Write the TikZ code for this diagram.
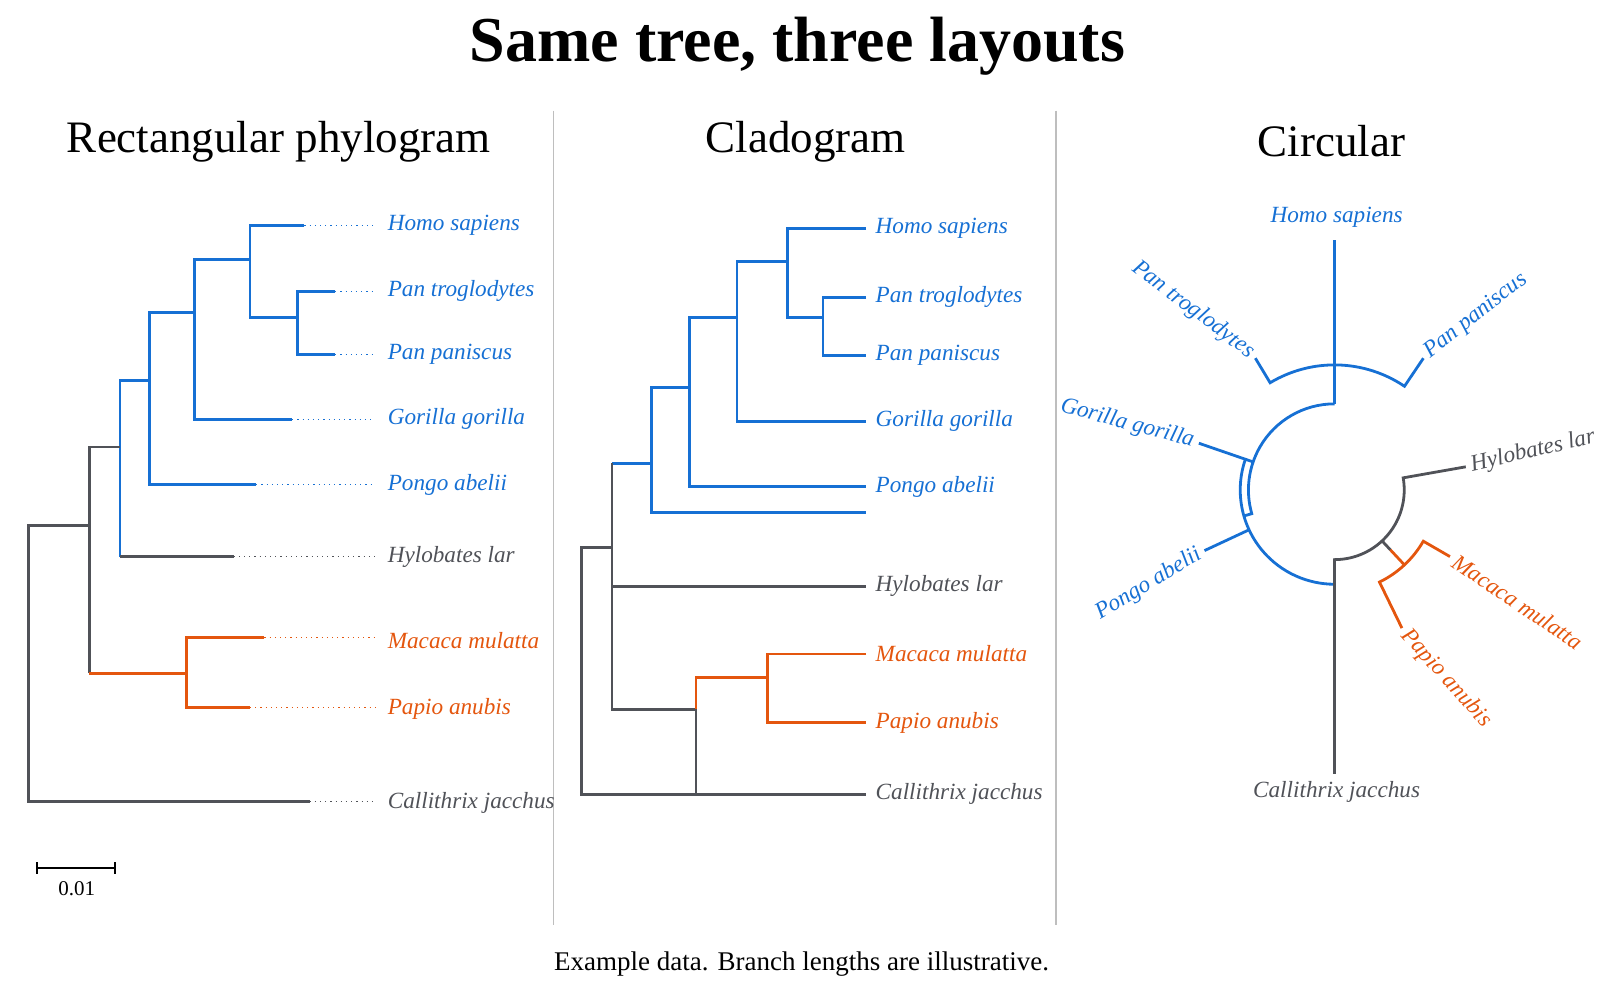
\documentclass[tikz,border=0pt]{standalone}
\usepackage{fontspec}
\setmainfont{Liberation Serif}
\begin{document}
\definecolor{cb}{RGB}{22,112,212}
\definecolor{co}{RGB}{228,86,14}
\definecolor{cg}{RGB}{80,82,88}
\definecolor{cd}{RGB}{190,190,190}
\begin{tikzpicture}[x=.5125pt,y=-.5125pt,
  br/.style={line width=1.4pt},
  dt/.style={dotted,line width=.6pt},
  lab/.style={font=\fontsize{11.6}{14}\selectfont\itshape,inner sep=1pt},
  hd/.style={font=\fontsize{22.5}{26}\selectfont},
  line join=miter]
\useasboundingbox (0,0) rectangle (1561,976);
\node[font=\fontsize{32}{36}\selectfont\bfseries] (title) at (778,45) {Same tree, three layouts};
\node[hd] (h1) at (272,138) {Rectangular phylogram};
\node[hd] (h2) at (786,138) {Cladogram};
\node[hd] (h3) at (1299,138) {Circular};
\node[font=\fontsize{13.5}{15}\selectfont] (foot) at (782,941) {Example data. Branch lengths are illustrative.};
\draw[cd,line width=.8pt] (540,108) -- (540,902);
\draw[cd,line width=.8pt] (1030,108) -- (1030,902);

% ---- rectangular phylogram
\draw[br,cb] (297,220) -- (244,220) -- (244,310) -- (290,310);
\draw[br,cb] (327,284) -- (290,284) -- (290,346) -- (327,346);
\draw[br,cb] (244,253) -- (190,253) -- (190,409) -- (285,409);
\draw[br,cb] (190,305) -- (146,305) -- (146,473) -- (250,473);
\draw[br,cb] (146,371) -- (117,371) -- (117,543);
\draw[br,cg] (117,543) -- (228,543);
\draw[br,cg] (117,436) -- (87,436) -- (87,657);
\draw[br,co] (87,657) -- (182,657);
\draw[br,co] (258,622) -- (182,622) -- (182,690) -- (244,690);
\draw[br,cg] (87,513) -- (28,513) -- (28,782) -- (302,782);
\draw[dt,cb] (297,220)--(366,220) (327,284)--(366,284) (327,346)--(366,346) (285,409)--(366,409) (250,473)--(366,473);
\draw[dt,cg] (228,543)--(366,543) (302,782)--(366,782);
\draw[dt,co] (258,622)--(366,622) (244,690)--(366,690);
\node[lab,cb,anchor=west] (l1) at (376,220) {Homo sapiens};
\node[lab,cb,anchor=west] (l2) at (376,284) {Pan troglodytes};
\node[lab,cb,anchor=west] (l3) at (376,346) {Pan paniscus};
\node[lab,cb,anchor=west] (l4) at (376,409) {Gorilla gorilla};
\node[lab,cb,anchor=west] (l5) at (376,473) {Pongo abelii};
\node[lab,cg,anchor=west] (l6) at (376,543) {Hylobates lar};
\node[lab,co,anchor=west] (l7) at (376,625) {Macaca mulatta};
\node[lab,co,anchor=west] (l8) at (376,692) {Papio anubis};
\node[lab,cg,anchor=west] (l9) at (376,783) {Callithrix jacchus};
\draw[line width=1pt] (36,841) -- (36,853) (36,847) -- (112,847) (112,841) -- (112,853);
\node[font=\fontsize{10.5}{12}\selectfont] (sc) at (75,867) {0.01};

% ---- cladogram
\draw[br,cb] (845,223) -- (768,223) -- (768,310) -- (803,310);
\draw[br,cb] (845,290) -- (803,290) -- (803,347) -- (845,347);
\draw[br,cb] (768,255) -- (719,255) -- (719,411) -- (845,411);
\draw[br,cb] (719,310) -- (673,310) -- (673,475) -- (845,475);
\draw[br,cb] (673,378) -- (636,378) -- (636,500) -- (845,500);
\draw[br,cb] (636,452) -- (597,452);
\draw[br,cg] (597,452) -- (597,692) -- (679,692) -- (679,775);
\draw[br,cg] (597,572) -- (845,572);
\draw[br,co] (679,692) -- (679,661) -- (749,661);
\draw[br,co] (845,638) -- (749,638) -- (749,705) -- (845,705);
\draw[br,cg] (597,534) -- (567,534) -- (567,775) -- (845,775);
\node[lab,cb,anchor=west] (c1) at (852,223) {Homo sapiens};
\node[lab,cb,anchor=west] (c2) at (852,290) {Pan troglodytes};
\node[lab,cb,anchor=west] (c3) at (852,347) {Pan paniscus};
\node[lab,cb,anchor=west] (c4) at (852,411) {Gorilla gorilla};
\node[lab,cb,anchor=west] (c5) at (852,475) {Pongo abelii};
\node[lab,cg,anchor=west] (c6) at (852,572) {Hylobates lar};
\node[lab,co,anchor=west] (c7) at (852,638) {Macaca mulatta};
\node[lab,co,anchor=west] (c8) at (852,705) {Papio anubis};
\node[lab,cg,anchor=west] (c9) at (852,775) {Callithrix jacchus};

% ---- circular
\begin{scope}[shift={(1302,478)},y=.5125pt]
\coordinate (C) at (0,0);
\draw[br,cb] (90:84) -- (90:244);
\draw[br,cb] (121:150) -- (121:122) arc[start angle=121,end angle=56,radius=122] -- (56:155);
\draw[br,cb] (90:84) arc[start angle=90,end angle=196,radius=84] -- (196:92);
\draw[br,cb] (161:84) -- (161:140);
\draw[br,cb] (161:92) arc[start angle=161,end angle=270,radius=92];
\draw[br,cb] (205:92) -- (205:140);
\draw[br,cg] (0,-277) -- (270:68) arc[start angle=270,end angle=370,radius=68] -- (10:130);
\draw[br,cg] (-47:68) -- (-47:80);
\draw[br,co] (-47:80) -- (-47:100);
\draw[br,co] (-30:130) -- (-30:100) arc[start angle=-30,end angle=-64,radius=100] -- (-64:150);
\node[lab,cb] (r1) at (2,266) {Homo sapiens};
\node[lab,cb,anchor=east,rotate=-37] (r2) at (121:153) {Pan troglodytes};
\node[lab,cb,anchor=west,rotate=38] (r3) at (56:158) {Pan paniscus};
\node[lab,cb,anchor=east,rotate=-15] (r4) at (161:143) {Gorilla gorilla};
\node[lab,cb,anchor=east,rotate=31] (r5) at (205:143) {Pongo abelii};
\node[lab,cg,anchor=west,rotate=13] (r6) at (10:133) {Hylobates lar};
\node[lab,co,anchor=west,rotate=-34] (r7) at (-30:133) {Macaca mulatta};
\node[lab,co,anchor=west,rotate=-48] (r8) at (-64:153) {Papio anubis};
\node[lab,cg] (r9) at (2,-295) {Callithrix jacchus};
\end{scope}
\end{tikzpicture}
\end{document}
